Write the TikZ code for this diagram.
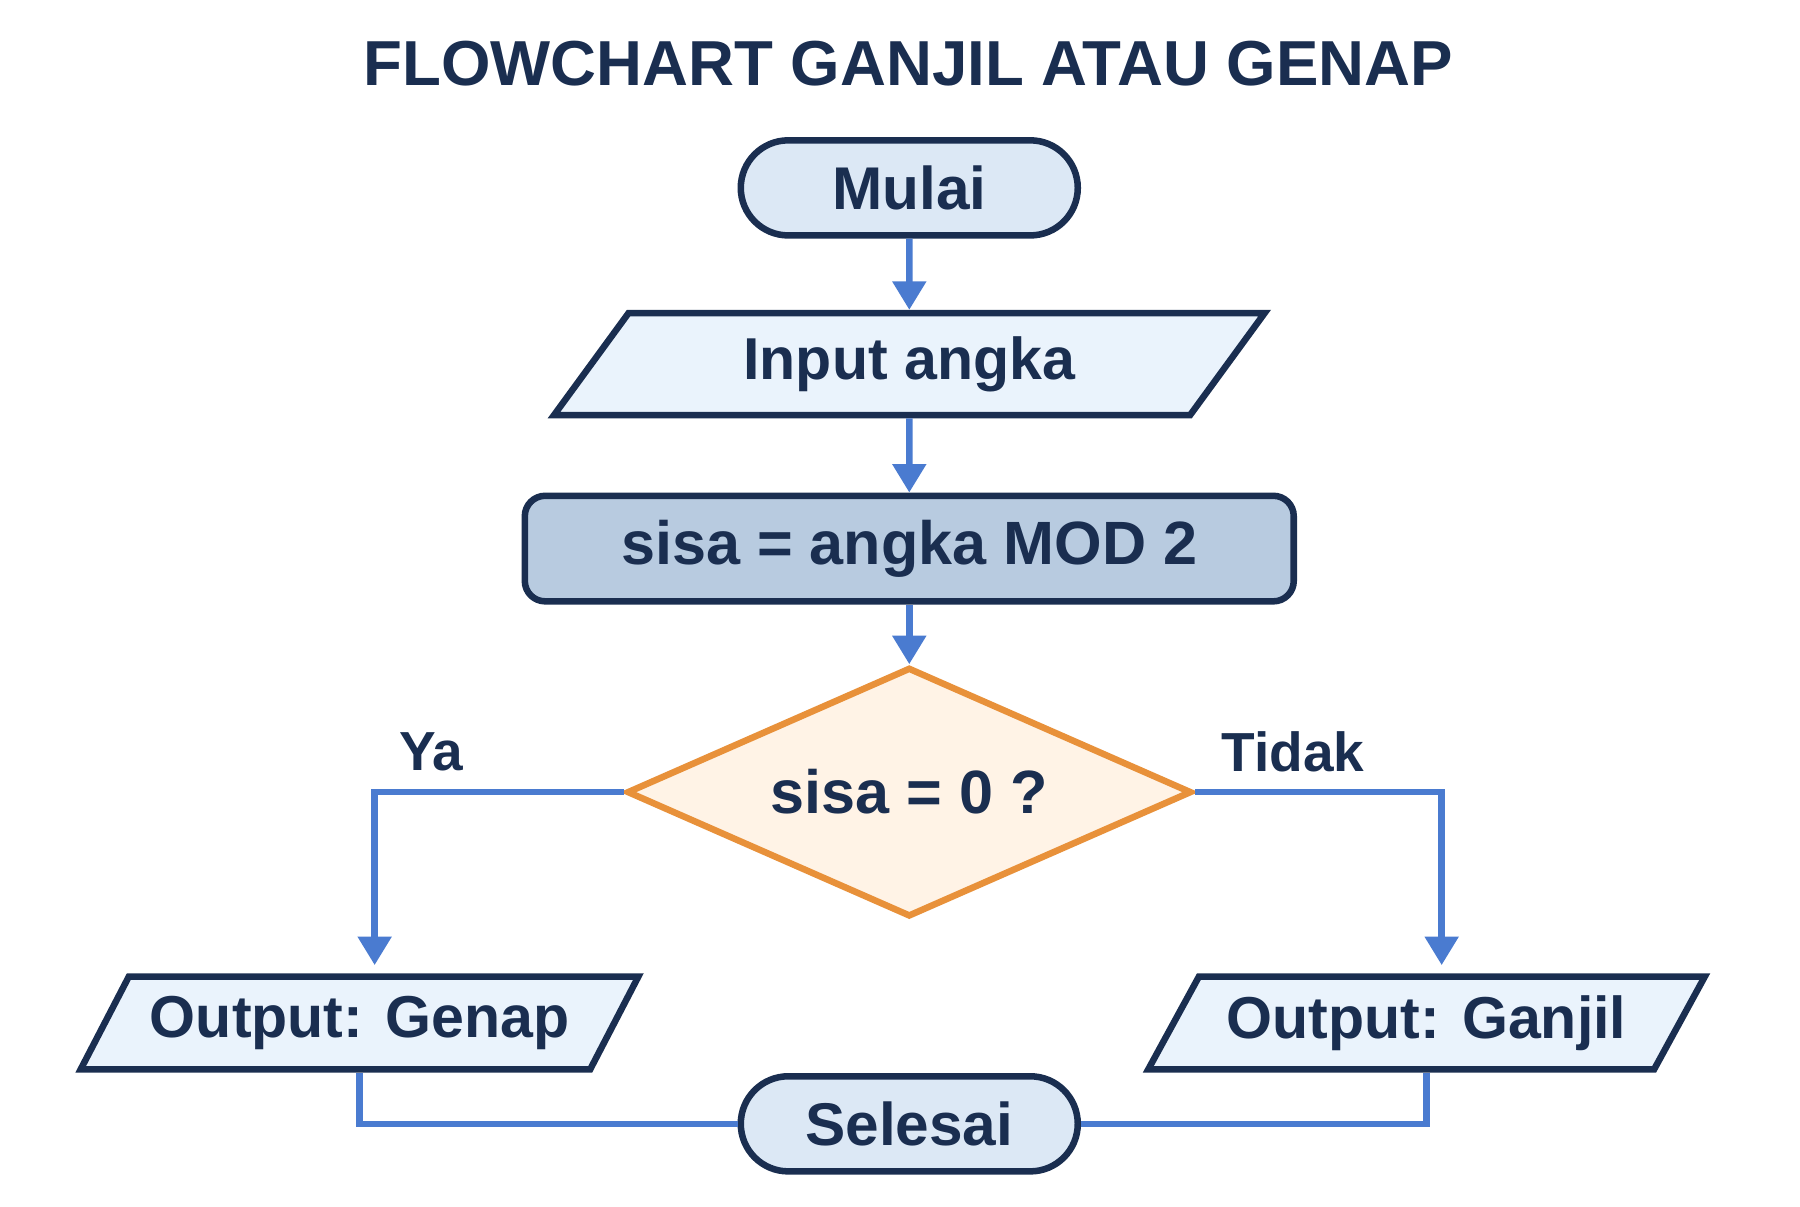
\documentclass[tikz,border=0pt]{standalone}
\usepackage{fontspec}
\setmainfont{Liberation Sans}
\usetikzlibrary{arrows.meta,positioning,shapes.geometric,shapes.misc}
\definecolor{navy}{HTML}{1A2E50}
\definecolor{termfill}{HTML}{DCE8F5}
\definecolor{iofill}{HTML}{EAF3FC}
\definecolor{procfill}{HTML}{B8CBE0}
\definecolor{decfill}{HTML}{FFF3E6}
\definecolor{decline}{HTML}{E8913A}
\definecolor{flowline}{HTML}{4A7BD0}
\begin{document}
\begin{tikzpicture}
[font=\bfseries, text=navy,
% STYLES
% The terminal style is used for start and end
terminal/.style={rounded rectangle, draw=navy, line width=1.6pt, fill=termfill, minimum width=3.14cm, minimum height=0.82cm, text=navy, font=\fontsize{14.8}{17}\selectfont\bfseries},
% The io style is used for input and output
io/.style={trapezium, trapezium left angle=60, trapezium right angle=120, trapezium stretches=true, draw=navy, line width=1.6pt, fill=iofill, text=navy, font=\fontsize{14.5}{17}\selectfont\bfseries},
process/.style={rectangle, rounded corners=5pt, draw=navy, line width=1.6pt, fill=procfill, minimum width=6.63cm, minimum height=0.91cm, text=navy, font=\fontsize{15}{18}\selectfont\bfseries},
decision/.style={diamond, draw=decline, line width=1.6pt, fill=decfill, minimum width=4.87cm, minimum height=2.15cm, aspect=2.27, inner sep=0pt, text=navy, font=\fontsize{15}{18}\selectfont\bfseries},
flow/.style={draw=flowline, line width=1.6pt},
label/.style={text=navy, font=\fontsize{13.5}{16}\selectfont\bfseries}]
\useasboundingbox (0,0) rectangle (15.52,-10.4);
% Title
\node[text=navy, font=\fontsize{15.6}{19}\selectfont\bfseries] (title) at (7.83,-0.55) {FLOWCHART GANJIL ATAU GENAP};
% Draw nodes
\node[terminal] (mulai) at (7.84,-1.62) {Mulai};
\node[io, minimum width=6.13cm, minimum height=0.88cm] (input) at (7.84,-3.14) {Input angka};
\node[process] (sisa) at (7.84,-4.73) {sisa = angka MOD 2};
\node[decision] (cek) at (7.84,-6.83) {sisa = 0 ?};
\node[io, minimum width=4.81cm, minimum height=0.80cm] (genap) at (3.10,-8.82) {Output: Genap};
\node[io, minimum width=4.80cm, minimum height=0.80cm] (ganjil) at (12.30,-8.82) {Output: Ganjil};
\node[terminal] (selesai) at (7.84,-9.69) {Selesai};
% Labels
\node[label] (ya) at (3.72,-6.48) {Ya};
\node[label] (tidak) at (11.15,-6.48) {Tidak};
% Draw the links
\draw[flow,-{Triangle[length=7pt,width=8pt]}] (mulai) -- (input);
\draw[flow,-{Triangle[length=7pt,width=8pt]}] (input) -- (sisa);
\draw[flow,-{Triangle[length=7pt,width=8pt]}] (sisa) -- (cek);
\draw[flow,-{Triangle[length=7pt,width=8pt]}] (cek.west) -| ([xshift=0.13cm,yshift=2pt]genap.north);
\draw[flow,-{Triangle[length=7pt,width=8pt]}] (cek.east) -| ([xshift=0.13cm,yshift=2pt]ganjil.north);
\draw[flow] (genap.south) |- (selesai.west);
\draw[flow] (ganjil.south) |- (selesai.east);
\end{tikzpicture}
\end{document}
